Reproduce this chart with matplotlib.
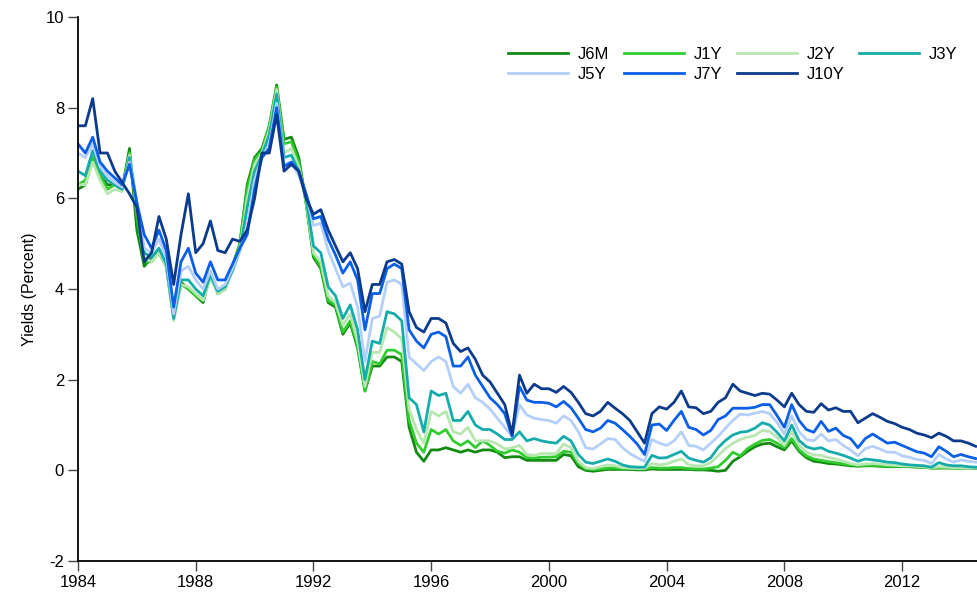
import numpy as np
import matplotlib
matplotlib.use("Agg")
import matplotlib.pyplot as plt

plt.rcParams['font.family'] = ['Liberation Sans', 'DejaVu Sans']

# quarterly observations, 1984Q1 .. 2014Q3
start_year = 1984.0
J10Y = [7.6, 7.6, 8.2, 7.0,
        7.0, 6.6, 6.35, 6.1,
        5.8, 4.6, 4.8, 5.6,
        5.1, 4.1, 5.2, 6.1,
        4.8, 5.0, 5.5, 4.85,
        4.8, 5.1, 5.05, 5.3,
        6.0, 7.0, 7.0, 7.85,
        6.6, 6.75, 6.6, 6.0,
        5.65, 5.75, 5.3, 4.95,
        4.6, 4.8, 4.45, 3.5,
        4.1, 4.1, 4.6, 4.65,
        4.55, 3.5, 3.15, 3.05,
        3.35, 3.35, 3.25, 2.8,
        2.62, 2.7, 2.45, 2.1,
        1.95, 1.7, 1.45, 0.8,
        2.1, 1.7, 1.9, 1.8,
        1.8, 1.72, 1.85, 1.72,
        1.5, 1.25, 1.2, 1.3,
        1.5, 1.37, 1.25, 1.1,
        0.85, 0.6, 1.25, 1.4,
        1.35, 1.5, 1.75, 1.4,
        1.38, 1.25, 1.3, 1.5,
        1.6, 1.9, 1.75, 1.7,
        1.65, 1.7, 1.68, 1.55,
        1.4, 1.7, 1.45, 1.3,
        1.28, 1.47, 1.33, 1.38,
        1.3, 1.3, 1.05, 1.15,
        1.25, 1.17, 1.08, 1.03,
        0.95, 0.9, 0.82, 0.78,
        0.72, 0.82, 0.75, 0.65,
        0.65, 0.6, 0.53]
J7Y = [7.2, 7.0, 7.35, 6.8,
       6.6, 6.45, 6.3, 6.75,
       5.9, 5.2, 4.9, 5.3,
       4.85, 3.6, 4.6, 4.9,
       4.35, 4.15, 4.6, 4.2,
       4.2, 4.55, 4.9, 5.2,
       6.2, 6.9, 7.1, 8.0,
       6.7, 6.8, 6.6, 6.1,
       5.55, 5.6, 5.1, 4.75,
       4.35, 4.6, 4.2, 3.1,
       3.9, 3.9, 4.45, 4.55,
       4.45, 3.1, 2.85, 2.7,
       3.0, 3.05, 2.95, 2.3,
       2.3, 2.5, 2.1, 1.85,
       1.6, 1.45, 1.25, 0.75,
       1.85, 1.55, 1.5, 1.5,
       1.48, 1.4, 1.52, 1.38,
       1.15, 0.9, 0.85, 0.93,
       1.1, 1.04, 0.9, 0.75,
       0.58, 0.35, 1.0, 1.02,
       0.88, 1.1, 1.3, 0.95,
       0.9, 0.78, 0.88, 1.12,
       1.2, 1.37, 1.37, 1.37,
       1.39, 1.45, 1.45, 1.21,
       0.95, 1.45, 1.1, 0.9,
       0.84, 1.08, 0.86, 0.93,
       0.77, 0.7, 0.5, 0.7,
       0.8, 0.7, 0.6, 0.62,
       0.55, 0.48, 0.41, 0.38,
       0.3, 0.52, 0.42, 0.3,
       0.35, 0.3, 0.26]
J5Y = [7.0, 6.9, 7.2, 6.7,
       6.5, 6.35, 6.25, 6.8,
       5.9, 4.9, 4.8, 5.1,
       4.7, 3.45, 4.4, 4.5,
       4.2, 4.0, 4.4, 4.0,
       4.1, 4.45, 4.85, 5.4,
       6.4, 6.9, 7.2, 8.1,
       6.75, 6.8, 6.5, 6.1,
       5.4, 5.45, 4.85, 4.45,
       4.05, 4.13, 3.6, 2.4,
       3.35, 3.4, 4.15, 4.2,
       4.1, 2.5, 2.35, 2.2,
       2.4, 2.5, 2.4, 1.85,
       1.7, 1.9, 1.6, 1.5,
       1.35, 1.15, 0.95, 0.75,
       1.45, 1.22, 1.15, 1.12,
       1.1, 1.04, 1.2, 1.1,
       0.85, 0.5, 0.47, 0.58,
       0.7, 0.68, 0.5, 0.37,
       0.28, 0.2, 0.68, 0.6,
       0.55, 0.65, 0.85, 0.55,
       0.53, 0.45, 0.6, 0.75,
       0.93, 1.1, 1.24, 1.22,
       1.26, 1.3, 1.25, 1.06,
       0.8, 1.2, 0.85, 0.68,
       0.65, 0.8, 0.65, 0.68,
       0.55, 0.45, 0.32, 0.48,
       0.53, 0.47, 0.4, 0.4,
       0.32, 0.29, 0.24, 0.22,
       0.15, 0.35, 0.25, 0.18,
       0.23, 0.2, 0.18]
J3Y = [6.6, 6.5, 7.05, 6.6,
       6.4, 6.3, 6.2, 6.9,
       5.9, 4.8, 4.7, 4.9,
       4.55, 3.35, 4.2, 4.2,
       4.0, 3.85, 4.3, 3.95,
       4.05, 4.4, 4.85, 5.8,
       6.6, 6.95, 7.4, 8.3,
       6.9, 6.95, 6.6, 6.0,
       4.95, 4.8, 4.05, 3.85,
       3.35, 3.65, 3.1, 2.0,
       2.85, 2.8, 3.5, 3.45,
       3.3, 1.6, 1.45, 0.85,
       1.75, 1.65, 1.7, 1.1,
       1.1, 1.3, 1.0, 0.9,
       0.9, 0.8, 0.68, 0.68,
       0.85, 0.65, 0.7, 0.65,
       0.62, 0.6, 0.75, 0.65,
       0.35, 0.18, 0.15, 0.2,
       0.25, 0.2, 0.12, 0.08,
       0.07, 0.07, 0.33, 0.27,
       0.28, 0.35, 0.42, 0.27,
       0.22, 0.18, 0.28, 0.5,
       0.66, 0.78, 0.84, 0.86,
       0.93, 1.05, 1.0, 0.84,
       0.65, 1.0, 0.66, 0.52,
       0.47, 0.5, 0.42, 0.38,
       0.33, 0.27, 0.2, 0.25,
       0.23, 0.21, 0.18, 0.17,
       0.14, 0.12, 0.11, 0.1,
       0.07, 0.17, 0.12, 0.1,
       0.1, 0.08, 0.07]
J2Y = [6.3, 6.3, 6.8, 6.4,
       6.1, 6.2, 6.15, 6.95,
       5.8, 4.7, 4.6, 4.8,
       4.5, 3.3, 4.1, 4.05,
       3.9, 3.75, 4.25, 3.9,
       4.0, 4.45, 4.9, 6.0,
       6.75, 7.0, 7.5, 8.4,
       7.0, 7.1, 6.7, 5.95,
       4.8, 4.6, 3.85, 3.7,
       3.2, 3.45, 2.85, 1.85,
       2.6, 2.6, 3.15, 3.05,
       2.9, 1.35, 0.9, 0.6,
       1.3, 1.2, 1.3, 0.85,
       0.8, 0.95, 0.65, 0.65,
       0.65, 0.58, 0.47, 0.5,
       0.55, 0.35, 0.33, 0.37,
       0.37, 0.37, 0.58, 0.5,
       0.2, 0.06, 0.04, 0.08,
       0.12, 0.1, 0.06, 0.05,
       0.04, 0.04, 0.15, 0.12,
       0.14, 0.2, 0.25, 0.12,
       0.1, 0.1, 0.17, 0.32,
       0.48, 0.6, 0.68, 0.73,
       0.77, 0.88, 0.86, 0.73,
       0.55, 0.85, 0.55, 0.4,
       0.34, 0.33, 0.28, 0.25,
       0.2, 0.15, 0.12, 0.14,
       0.15, 0.14, 0.12, 0.11,
       0.1, 0.1, 0.09, 0.08,
       0.06, 0.08, 0.07, 0.06,
       0.06, 0.05, 0.05]
J1Y = [6.3, 6.4, 6.9, 6.5,
       6.2, 6.3, 6.2, 7.0,
       5.6, 4.6, 4.6, 4.8,
       4.5, 3.35, 4.1, 4.0,
       3.85, 3.75, 4.3, 3.9,
       4.0, 4.5, 5.0, 6.2,
       6.85, 7.05, 7.6, 8.45,
       7.2, 7.25, 6.8, 5.9,
       4.75, 4.5, 3.75, 3.65,
       3.05, 3.3, 2.75, 1.75,
       2.4, 2.35, 2.65, 2.65,
       2.55, 1.1, 0.6, 0.4,
       0.9, 0.8, 0.9, 0.65,
       0.55, 0.65, 0.5, 0.65,
       0.55, 0.42, 0.38, 0.45,
       0.4, 0.28, 0.27, 0.29,
       0.29, 0.3, 0.42, 0.4,
       0.15, 0.03, 0.02, 0.03,
       0.05, 0.05, 0.04, 0.04,
       0.03, 0.03, 0.06, 0.05,
       0.05, 0.06, 0.06, 0.04,
       0.03, 0.03, 0.05, 0.08,
       0.22, 0.4, 0.32, 0.48,
       0.58, 0.66, 0.68, 0.6,
       0.5, 0.7, 0.45, 0.32,
       0.25, 0.22, 0.19, 0.17,
       0.14, 0.12, 0.1, 0.11,
       0.11, 0.1, 0.09, 0.09,
       0.09, 0.08, 0.08, 0.07,
       0.05, 0.06, 0.06, 0.05,
       0.05, 0.05, 0.05]
J6M = [6.2, 6.3, 6.85, 6.5,
       6.3, 6.3, 6.2, 7.1,
       5.3, 4.5, 4.7, 4.8,
       4.5, 3.4, 4.15, 4.0,
       3.85, 3.7, 4.35, 3.9,
       4.0, 4.5, 5.0, 6.3,
       6.9, 7.1, 7.6, 8.5,
       7.3, 7.35, 6.9, 5.9,
       4.7, 4.45, 3.7, 3.6,
       3.0, 3.25, 2.7, 1.75,
       2.3, 2.3, 2.5, 2.5,
       2.4, 0.95, 0.4, 0.2,
       0.45, 0.45, 0.5, 0.45,
       0.4, 0.45, 0.4, 0.45,
       0.45, 0.4, 0.28, 0.3,
       0.3, 0.22, 0.22, 0.22,
       0.22, 0.22, 0.35, 0.32,
       0.08, 0.0, -0.02, 0.0,
       0.02, 0.02, 0.02, 0.02,
       0.01, 0.01, 0.03, 0.02,
       0.02, 0.02, 0.02, 0.02,
       0.01, 0.01, 0.0, -0.02,
       0.0, 0.2, 0.3, 0.42,
       0.52, 0.58, 0.6, 0.52,
       0.45, 0.65, 0.42, 0.28,
       0.2, 0.18, 0.15, 0.14,
       0.12, 0.1, 0.09, 0.1,
       0.1, 0.09, 0.08, 0.08,
       0.08, 0.08, 0.07, 0.07,
       0.05, 0.05, 0.05, 0.05,
       0.05, 0.05, 0.04]

series_names = ["J6M", "J1Y", "J2Y", "J3Y", "J5Y", "J7Y", "J10Y"]
series_values = [J6M, J1Y, J2Y, J3Y, J5Y, J7Y, J10Y]
series_colors = ["#128a12", "#30cc30", "#b8e6b0", "#16abab",
                 "#b3cffa", "#0a5fe8", "#0c3a8c"]
x_ticks = [1984, 1988, 1992, 1996, 2000, 2004, 2008, 2012]
y_ticks = [-2, 0, 2, 4, 6, 8, 10]

fig = plt.figure(figsize=(9.78, 5.96), dpi=100)
ax = fig.add_axes([78 / 978, 35 / 596, 900 / 978, 544 / 596])

handles = {}
for name, vals, col in zip(series_names, series_values, series_colors):
    t = start_year + np.arange(len(vals)) / 4.0
    ln, = ax.plot(t, vals, color=col, lw=2.0, label=name, solid_joinstyle='round')
    handles[name] = ln

ax.set_xlim(1984, 2014.58)
ax.set_ylim(-2, 10)
ax.set_xticks(x_ticks)
ax.set_yticks(y_ticks)
ax.set_yticklabels([str(v) for v in y_ticks])
ax.tick_params(axis='both', direction='out', length=7, width=1,
               color='#444444', labelsize=12, pad=3)
for s in ['top', 'right']:
    ax.spines[s].set_visible(False)
for s in ['left', 'bottom']:
    ax.spines[s].set_linewidth(1.3)
ax.set_ylabel("Yields (Percent)", fontsize=11.5, labelpad=6)

# legend filled row by row (matplotlib fills by column)
order = ["J6M", "J5Y", "J1Y", "J7Y", "J2Y", "J10Y", "J3Y"]
leg = ax.legend([handles[n] for n in order], order, ncol=4, frameon=False,
                fontsize=12, handlelength=3.6, columnspacing=0.85,
                handletextpad=0.6, labelspacing=0.3, borderpad=0,
                borderaxespad=0, loc='upper left',
                bbox_to_anchor=(0.478, 0.945))

fig.savefig("out.png", dpi=100)
